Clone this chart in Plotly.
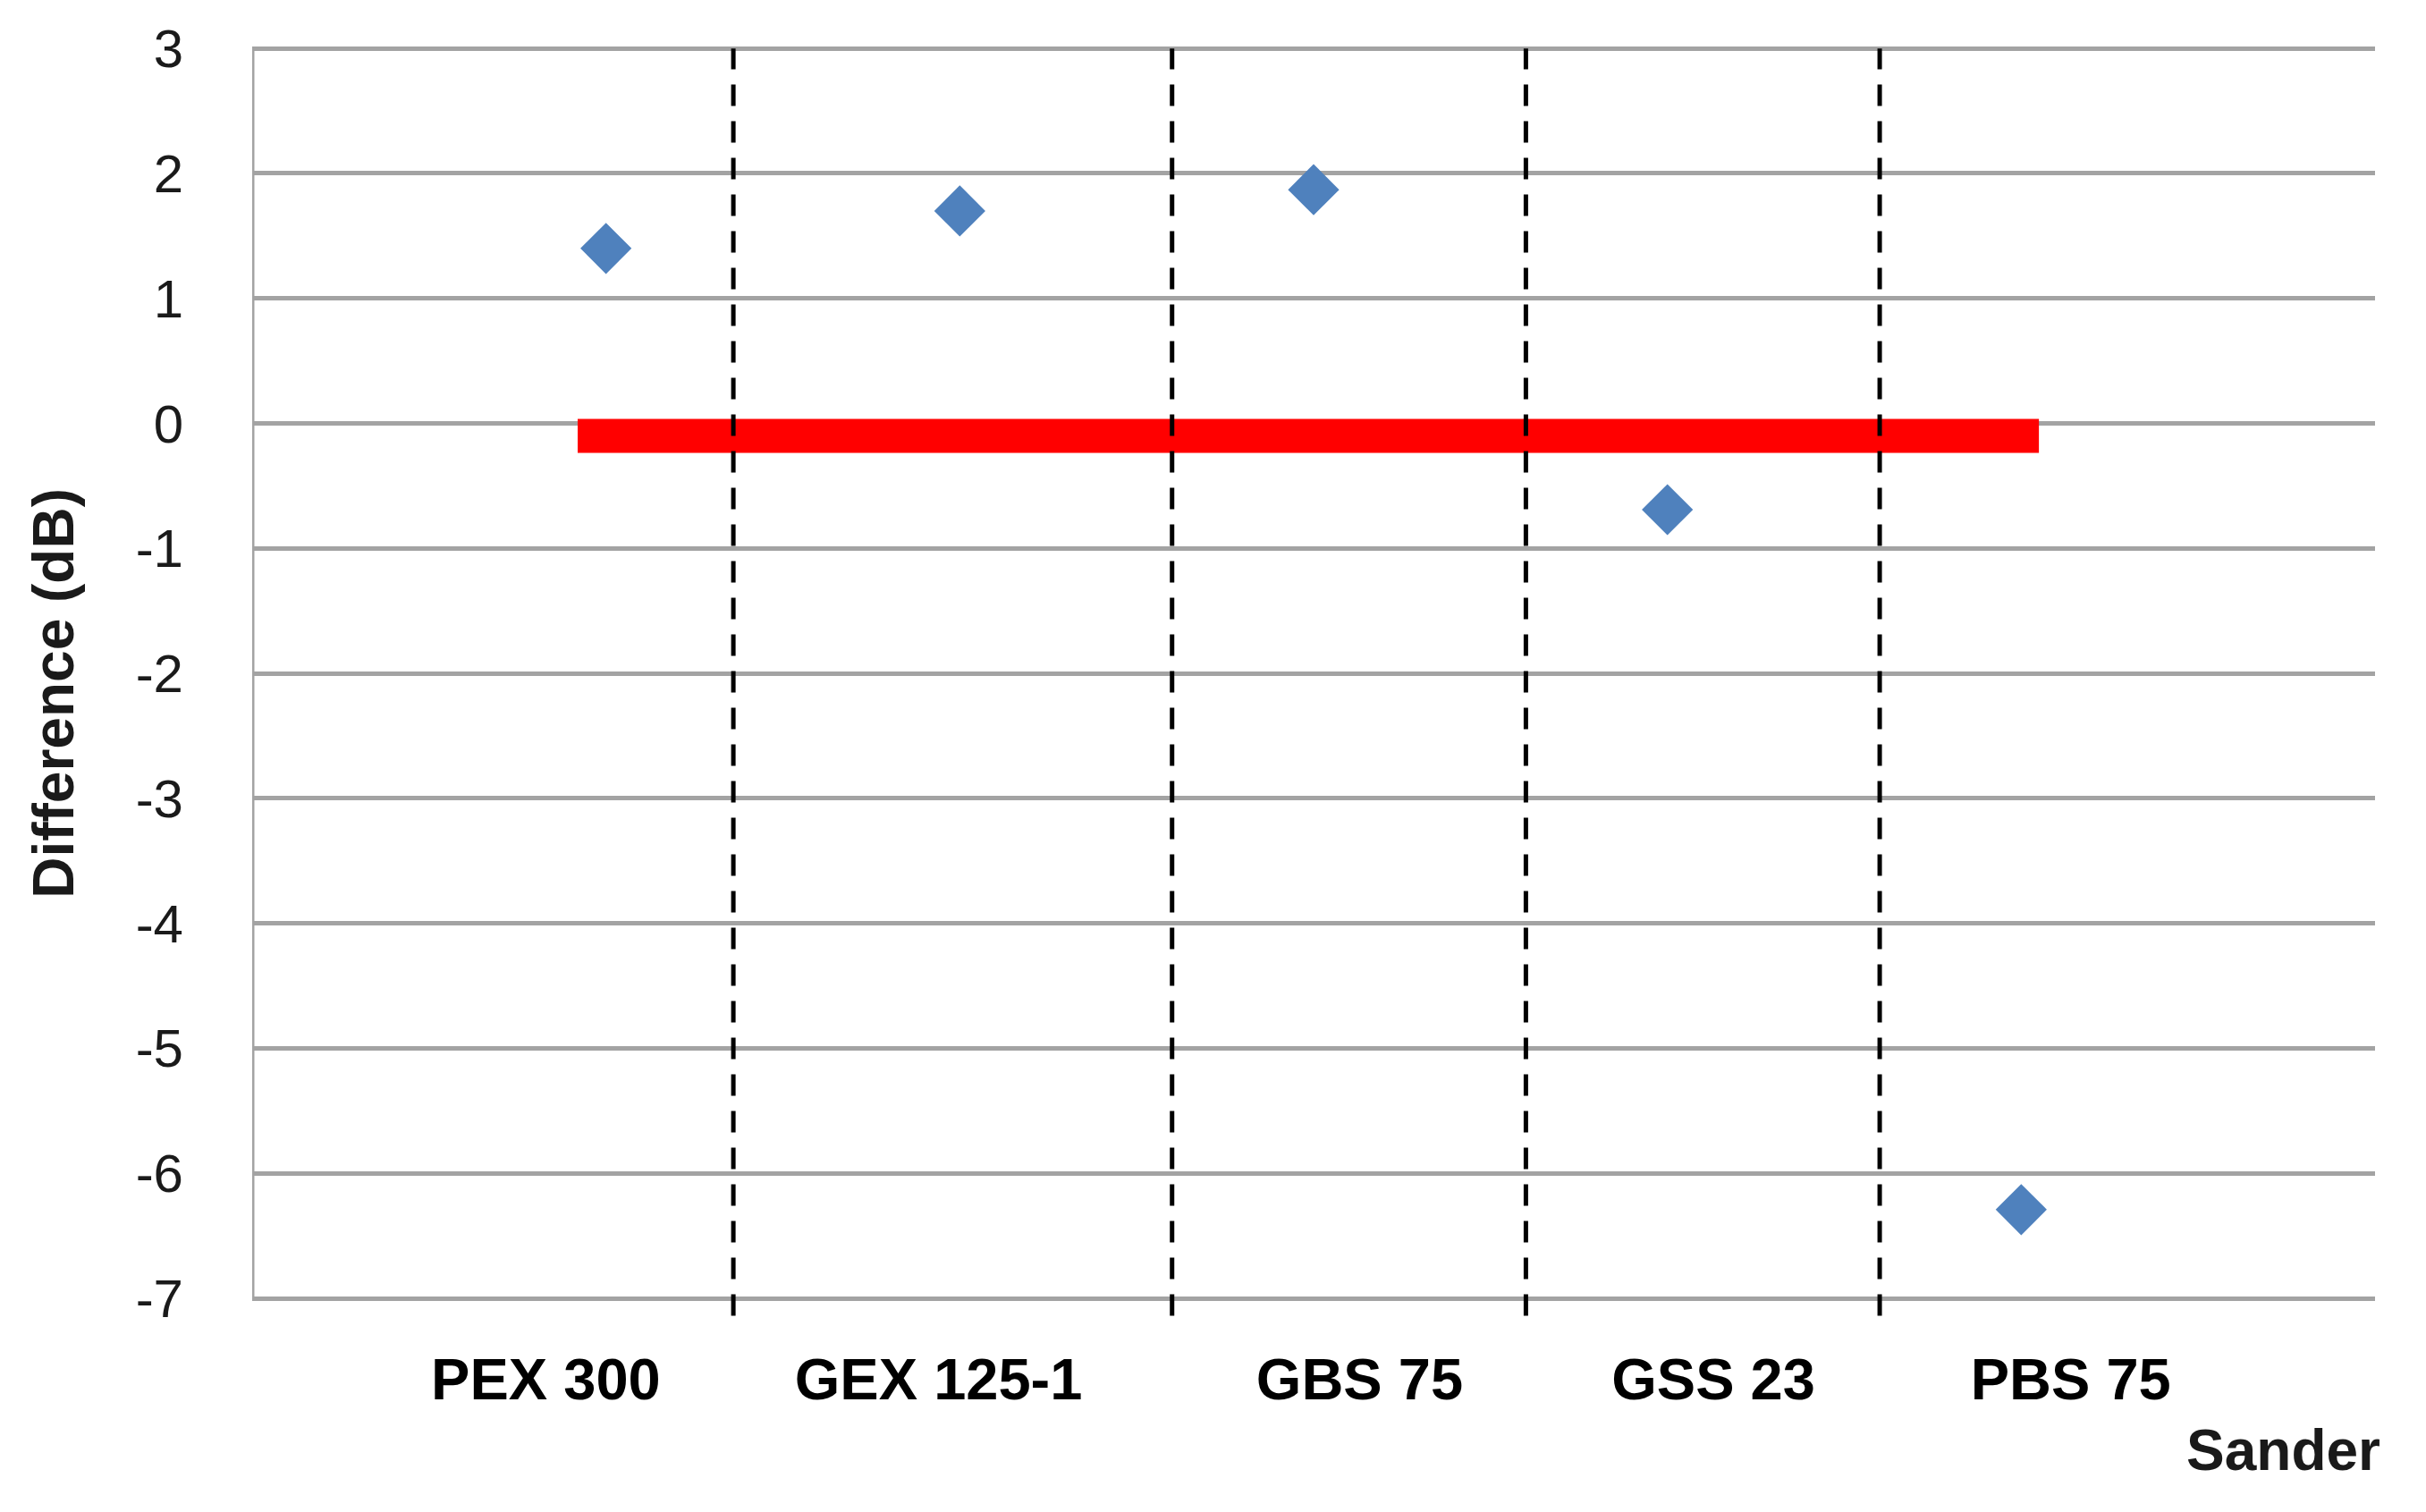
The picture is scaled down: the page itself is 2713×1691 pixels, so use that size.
import plotly.graph_objects as go

# data
sanders = ["PEX 300", "GEX 125-1", "GBS 75", "GSS 23", "PBS 75"]
sander_idx = [1, 2, 3, 4, 5]
difference_db = [1.40, 1.70, 1.87, -0.69, -6.29]

# red reference bar
ref_x = [0.92, 5.05]
ref_y = [-0.10, -0.10]

# y ticks
y_ticks = [3, 2, 1, 0, -1, -2, -3, -4, -5, -6, -7]
y_tick_text = ["3", "2", "1", "0", "-1", "-2", "-3", "-4", "-5", "-6", "-7"]

# layout helpers (label centres and separator lines, in x units)
label_x = [0.83, 1.94, 3.13, 4.13, 5.14]
separators = [1.36, 2.60, 3.60, 4.60]

FONT = "Liberation Sans"

fig = go.Figure()

fig.add_trace(go.Scatter(
    x=ref_x, y=ref_y, mode="lines",
    line=dict(color="#ff0000", width=38),
    hoverinfo="skip", showlegend=False
))

fig.add_trace(go.Scatter(
    x=sander_idx, y=difference_db, mode="markers",
    marker=dict(symbol="diamond", size=44, color="#4f81bd"),
    text=sanders, showlegend=False
))

shapes = []
for sx in separators:
    shapes.append(dict(
        type="line", xref="x", yref="y", x0=sx, x1=sx, y0=-7.14, y1=3,
        line=dict(color="black", width=5, dash="24px,17px"), layer="above"
    ))
# left axis line
shapes.append(dict(
    type="line", xref="x", yref="y", x0=0, x1=0, y0=-7, y1=3,
    line=dict(color="#a3a3a3", width=5), layer="below"
))

fig.update_layout(
    width=2713, height=1691,
    margin=dict(l=274, r=65, t=42, b=226),
    paper_bgcolor="white", plot_bgcolor="white",
    font=dict(family=FONT, color="#1a1a1a"),
    shapes=shapes,
    xaxis=dict(
        range=[0, 6], showgrid=False, zeroline=False, showline=False,
        tickvals=label_x, ticktext=sanders, ticks="",
        tickfont=dict(size=65, weight="bold", color="black"),
        ticklabelstandoff=26,
    ),
    yaxis=dict(
        range=[-7.15, 3.03], tickvals=y_ticks, ticktext=y_tick_text,
        showgrid=True, gridcolor="#a3a3a3", gridwidth=5,
        zeroline=False, showline=False, ticks="",
        tickfont=dict(size=60, color="#1a1a1a"),
        ticklabelstandoff=76,
    ),
    annotations=[
        dict(text="<b>Difference (dB)</b>", xref="paper", yref="paper",
             x=-0.0935, y=0.49, textangle=-90, showarrow=False,
             xanchor="center", yanchor="middle",
             font=dict(size=64, color="#1a1a1a")),
        dict(text="<b>Sander</b>", xref="paper", yref="paper",
             x=1.0034, y=-0.105, showarrow=False,
             xanchor="right", yanchor="middle",
             font=dict(size=64, color="#1a1a1a")),
    ],
)

fig.write_html("out.html")
